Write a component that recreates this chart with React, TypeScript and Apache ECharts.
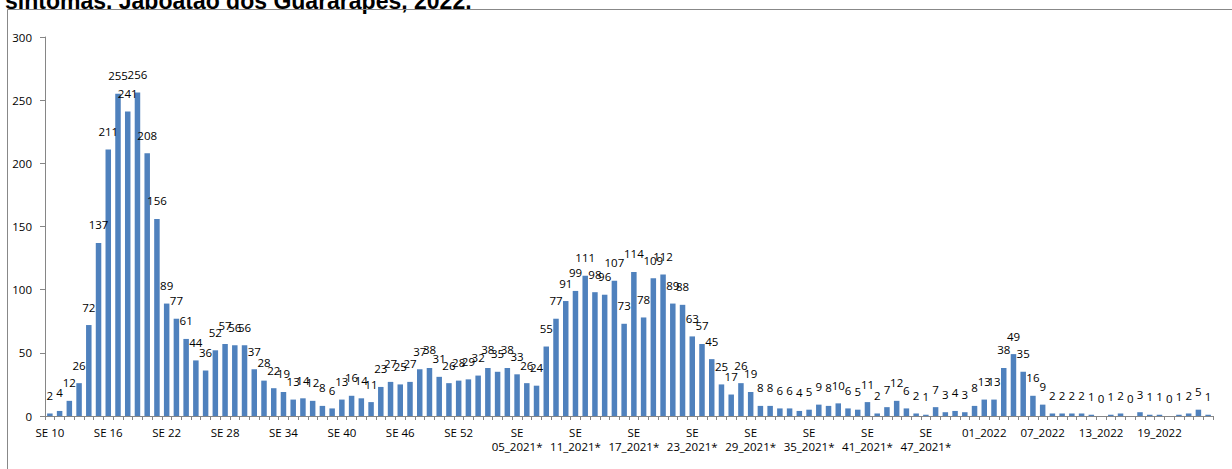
import React, { useEffect, useRef } from "react";
import * as echarts from "echarts";

const weeks2020 = [
  "SE 10", "SE 11", "SE 12", "SE 13", "SE 14", "SE 15", "SE 16", "SE 17", "SE 18", "SE 19", "SE 20",
  "SE 21", "SE 22", "SE 23", "SE 24", "SE 25", "SE 26", "SE 27", "SE 28", "SE 29", "SE 30",
  "SE 31", "SE 32", "SE 33", "SE 34", "SE 35", "SE 36", "SE 37", "SE 38", "SE 39", "SE 40",
  "SE 41", "SE 42", "SE 43", "SE 44", "SE 45", "SE 46", "SE 47", "SE 48", "SE 49", "SE 50",
  "SE 51", "SE 52", "SE 53",
];
const cases2020 = [
  2, 4, 12, 26, 72, 137, 211, 255, 241, 256, 208,
  156, 89, 77, 61, 44, 36, 52, 57, 56, 56,
  37, 28, 22, 19, 13, 14, 12, 8, 6, 13,
  16, 14, 11, 23, 27, 25, 27, 37, 38, 31,
  26, 28, 29,
];

const weeks2021 = [
  "SE 01_2021*", "SE 02_2021*", "SE 03_2021*", "SE 04_2021*", "SE 05_2021*", "SE 06_2021*",
  "SE 07_2021*", "SE 08_2021*", "SE 09_2021*", "SE 10_2021*", "SE 11_2021*", "SE 12_2021*",
  "SE 13_2021*", "SE 14_2021*", "SE 15_2021*", "SE 16_2021*", "SE 17_2021*", "SE 18_2021*",
  "SE 19_2021*", "SE 20_2021*", "SE 21_2021*", "SE 22_2021*", "SE 23_2021*", "SE 24_2021*",
  "SE 25_2021*", "SE 26_2021*", "SE 27_2021*", "SE 28_2021*", "SE 29_2021*", "SE 30_2021*",
  "SE 31_2021*", "SE 32_2021*", "SE 33_2021*", "SE 34_2021*", "SE 35_2021*", "SE 36_2021*",
  "SE 37_2021*", "SE 38_2021*", "SE 39_2021*", "SE 40_2021*", "SE 41_2021*", "SE 42_2021*",
  "SE 43_2021*", "SE 44_2021*", "SE 45_2021*", "SE 46_2021*", "SE 47_2021*", "SE 48_2021*",
  "SE 49_2021*", "SE 50_2021*", "SE 51_2021*", "SE 52_2021*",
];
const cases2021 = [
  32, 38, 35, 38, 33, 26, 24, 55, 77, 91, 99, 111,
  98, 96, 107, 73, 114, 78, 109, 112, 89, 88, 63, 57,
  45, 25, 17, 26, 19, 8, 8, 6, 6, 4, 5, 9,
  8, 10, 6, 5, 11, 2, 7, 12, 6, 2, 1, 7,
  3, 4, 3, 8,
];

const weeks2022 = [
  "01_2022", "02_2022", "03_2022", "04_2022", "05_2022", "06_2022",
  "07_2022", "08_2022", "09_2022", "10_2022", "11_2022", "12_2022",
  "13_2022", "14_2022", "15_2022", "16_2022", "17_2022", "18_2022",
  "19_2022", "20_2022", "21_2022", "22_2022", "23_2022", "24_2022",
];
const cases2022 = [
  13, 13, 38, 49, 35, 16, 9, 2, 2, 2, 2, 1,
  0, 1, 2, 0, 3, 1, 1, 0, 1, 2, 5, 1,
];

const yTicks = { min: 0, max: 300, interval: 50 };
const titleText = "sintomas. Jaboatão dos Guararapes, 2022.";

const categories = [...weeks2020, ...weeks2021, ...weeks2022];
const values = [...cases2020, ...cases2021, ...cases2022];

const FONT = "Open Sans";
const AXIS_COLOR = "#868686";

export default function App() {
  const ref = useRef<HTMLDivElement>(null);
  useEffect(() => {
    if (!ref.current) return;
    const chart = echarts.init(ref.current, undefined, { renderer: "svg" });
    chart.setOption({
      animation: false,
      grid: { left: 45, right: 19, top: 37, bottom: 53 },
      xAxis: {
        type: "category",
        data: categories,
        axisLine: { lineStyle: { color: AXIS_COLOR, width: 1 } },
        axisTick: { show: true, interval: 0, length: 4, lineStyle: { color: AXIS_COLOR } },
        axisLabel: {
          interval: 5,
          fontSize: 11.5,
          fontFamily: FONT,
          color: "#000",
          margin: 9,
          lineHeight: 14,
          formatter: (v: string) => (v.indexOf("_2021") >= 0 ? v.replace(" ", "\n") : v),
        },
      },
      yAxis: {
        type: "value",
        min: yTicks.min,
        max: yTicks.max,
        interval: yTicks.interval,
        axisLine: { show: true, lineStyle: { color: AXIS_COLOR, width: 1 } },
        axisTick: { show: true, length: 5, lineStyle: { color: AXIS_COLOR } },
        splitLine: { show: false },
        axisLabel: { fontSize: 11.5, fontFamily: FONT, color: "#000", margin: 13 },
      },
      series: [
        {
          type: "bar",
          data: values,
          barWidth: 5.5,
          itemStyle: { color: "#4F81BD" },
          label: {
            show: true,
            position: "top",
            distance: 12,
            fontSize: 11.5,
            fontFamily: FONT,
            color: "#000",
          },
        },
      ],
      graphic: [
        {
          type: "polyline",
          shape: { points: [[7.5, 469], [7.5, 9.5], [1232, 9.5]] },
          style: { stroke: "#888888", lineWidth: 1, fill: "none" },
          z: 10,
        },
        {
          type: "text",
          x: 5,
          y: 12,
          style: {
            text: titleText,
            fontSize: 23,
            fontWeight: "bold",
            fontFamily: "Liberation Sans",
            fill: "#000",
            align: "left",
            verticalAlign: "bottom",
          },
          z: 5,
        },
      ],
    });
    return () => chart.dispose();
  }, []);
  return (
    <div
      ref={ref}
      style={{ position: "fixed", left: 0, top: 0, width: 1232, height: 469, background: "#fff" }}
    />
  );
}
